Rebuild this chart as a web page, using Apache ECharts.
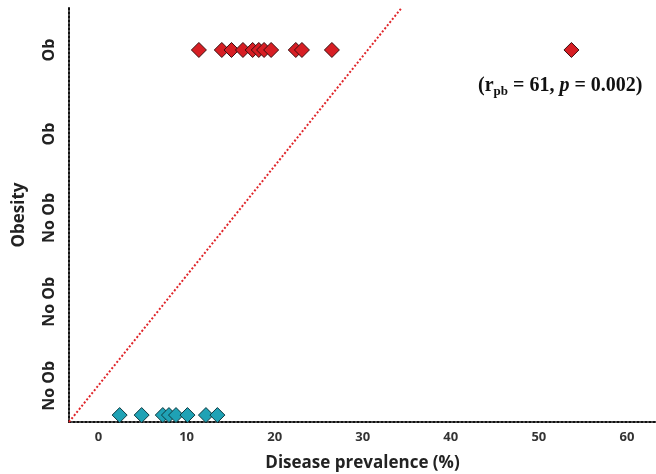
<!DOCTYPE html>
<html>
<head>
<meta charset="utf-8">
<script src="https://cdn.jsdelivr.net/npm/echarts@6/dist/echarts.min.js"></script>
<style>
  html, body { margin: 0; padding: 0; background: #fff; }
  #chart { width: 656px; height: 474px; }
</style>
</head>
<body>
<div id="chart"></div>
<script>
// Disease prevalence (%) per group; obesity coded 1 = Ob, 0 = No Ob
const obPrevalence = [11.4, 14.0, 15.1, 16.4, 17.5, 18.2, 18.8, 19.6, 22.4, 23.1, 26.5, 53.7];
const noObPrevalence = [2.4, 4.9, 7.3, 8.0, 8.8, 10.1, 12.2, 13.5];
const obCode = 1;
const noObCode = 0;

// Tick labels
const xTicks = [0, 10, 20, 30, 40, 50, 60];
const yTickValues = [0.08, 0.31, 0.54, 0.77, 1.0];
const yTickLabels = ['No Ob', 'No Ob', 'No Ob', 'Ob', 'Ob'];

// Dotted trend line endpoints (prevalence, obesity code)
const fitLine = [[-3.35, -0.019], [34.4, 1.115]];

const statText = '(r{sub|pb} = 61, {it|p} = 0.002)';

const chart = echarts.init(document.getElementById('chart'), null, { renderer: 'canvas' });

const font = '"Open Sans", "Noto Sans", sans-serif';
const serif = '"Liberation Serif", "Times New Roman", serif';

chart.setOption({
  animation: false,
  backgroundColor: '#ffffff',
  grid: { left: 69, right: 0, top: 8, bottom: 52, outerBoundsMode: 'none', containLabel: false },
  xAxis: {
    type: 'value',
    min: -3.35,
    max: 63.3,
    name: 'Disease prevalence (%)',
    nameLocation: 'middle',
    nameGap: 33,
    nameTextStyle: { fontFamily: font, fontWeight: 'bold', fontSize: 17, color: '#222' },
    axisLine: { show: true, onZero: false, lineStyle: { color: '#111', width: 2, type: [2, 2] } },
    axisTick: { show: false },
    splitLine: { show: false },
    axisLabel: {
      customValues: xTicks,
      margin: 9,
      fontFamily: font,
      fontWeight: 'bold',
      fontSize: 13,
      color: '#333'
    }
  },
  yAxis: {
    type: 'value',
    min: -0.019,
    max: 1.115,
    name: 'Obesity',
    nameLocation: 'middle',
    nameGap: 41,
    nameRotate: 90,
    nameTextStyle: { fontFamily: font, fontWeight: 'bold', fontSize: 17, color: '#222' },
    axisLine: { show: true, onZero: false, lineStyle: { color: '#111', width: 2, type: [2, 2] } },
    axisTick: { show: false },
    splitLine: { show: false },
    axisLabel: {
      customValues: yTickValues,
      rotate: 90,
      margin: 12,
      fontFamily: font,
      fontWeight: 'bold',
      fontSize: 16,
      color: '#222',
      formatter: function (v) {
        const i = yTickValues.findIndex(function (t) { return Math.abs(t - v) < 1e-6; });
        return i >= 0 ? yTickLabels[i] : '';
      }
    }
  },
  series: [
    {
      type: 'line',
      data: fitLine,
      symbol: 'none',
      lineStyle: { color: '#e0262b', width: 2, type: [2, 2] },
      z: 1
    },
    {
      type: 'scatter',
      data: obPrevalence.map(function (v) { return [v, obCode]; }),
      symbol: 'diamond',
      symbolSize: 15,
      itemStyle: { color: '#d71e24', borderColor: '#3a1010', borderWidth: 1, opacity: 1 },
      z: 3
    },
    {
      type: 'scatter',
      data: noObPrevalence.map(function (v) { return [v, noObCode]; }),
      symbol: 'diamond',
      symbolSize: 15,
      itemStyle: { color: '#1fa2b5', borderColor: '#0f3a40', borderWidth: 1, opacity: 1 },
      z: 3
    }
  ],
  graphic: [
    {
      type: 'text',
      left: 478,
      top: 76,
      style: {
        text: statText,
        font: 'bold 20px ' + serif,
        fill: '#111',
        rich: {
          sub: { font: 'bold 13px ' + serif, fill: '#111', padding: [11, 0, 0, 0] },
          it: { font: 'italic bold 20px ' + serif, fill: '#111' }
        }
      }
    }
  ]
});
</script>
</body>
</html>
